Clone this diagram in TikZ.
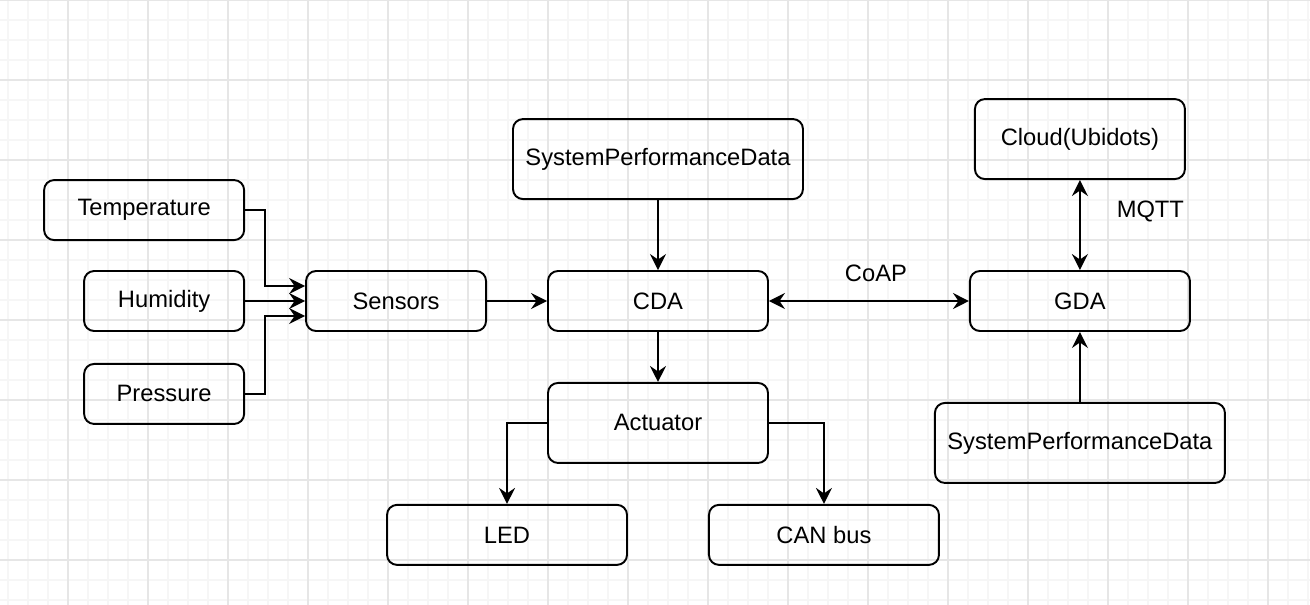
\documentclass[tikz,border=0pt]{standalone}
\usepackage{fontspec}
\setmainfont{Liberation Sans}
\usepackage{xcolor}
\usetikzlibrary{arrows.meta,positioning}

\definecolor{gridminor}{HTML}{F6F6F6}
\definecolor{gridmajor}{HTML}{E6E6E6}

\begin{document}
\begin{tikzpicture}[
  box/.style={
    draw,
    rounded corners=2mm,
    align=center,
    minimum width=44mm,
    minimum height=12mm,
    inner sep=0pt,
    line width=1.1pt
  },
  tall/.style={minimum height=16mm},
  arr/.style={-{Stealth[length=3.2mm,width=3.2mm,inset=1.1mm]}, line width=1.1pt},
  biarr/.style={{Stealth[length=3.2mm,width=3.2mm,inset=1.1mm]}-{Stealth[length=3.2mm,width=3.2mm,inset=1.1mm]}, line width=1.1pt},
  font=\fontsize{13.5}{16}\selectfont
]
% background grid
\useasboundingbox (-131.6mm,-60.6mm) rectangle (130.4mm,60.2mm);
\begin{scope}
  \clip (-131.6mm,-60.6mm) rectangle (130.4mm,60.2mm);
  \fill[white] (-131.6mm,-60.6mm) rectangle (130.4mm,60.2mm);
  \draw[gridminor, line width=0.6pt, shift={(-2mm,0.2mm)}, step=4mm] (-136mm,-64mm) grid (136mm,64mm);
  \draw[gridmajor, line width=0.8pt, shift={(-6mm,-3.8mm)}, step=16mm] (-144mm,-64mm) grid (144mm,64mm);
\end{scope}

\node[box] (cda) at (0,0) {CDA};
\node[box, minimum width=36mm, left=12mm of cda] (sensors) {Sensors};
\node[box, minimum width=32mm, left=12mm of sensors] (hum) {Humidity};
\node[box, minimum width=40mm, above=5.8mm of hum.north east, anchor=south east] (temp) {Temperature};
\node[box, minimum width=32mm, below=6.2mm of hum] (pres) {Pressure};
\node[box, tall, minimum width=58mm, above=14mm of cda] (spdc) {SystemPerformanceData};
\node[box, tall, below=10mm of cda] (act) {Actuator};
\node[box, minimum width=48mm, below=8mm of act.south west, xshift=-8mm] (led) {LED};
\node[box, minimum width=46mm, below=8mm of act.south east, xshift=11mm] (can) {CAN bus};
\node[box, right=40mm of cda] (gda) {GDA};
\node[box, tall, minimum width=42mm, above=18mm of gda] (cloud) {Cloud(Ubidots)};
\node[box, tall, minimum width=58mm, below=14mm of gda] (spdg) {SystemPerformanceData};

% sensor inputs
\draw[arr] (temp.east) -- ++(4mm,0) |- ([yshift=3mm]sensors.west);
\draw[arr] (hum) -- (sensors);
\draw[arr] (pres.east) -- ++(4mm,0) |- ([yshift=-3mm]sensors.west);
\draw[arr] (sensors) -- (cda);
\draw[arr] (spdc) -- (cda);
\draw[arr] (cda) -- (act);
\draw[arr] (act.west) -| (led.north);
\draw[arr] (act.east) -| (can.north);

% gateway side
\draw[biarr] (cda) -- node[above=2.5mm, xshift=1.4mm]{CoAP} (gda);
\draw[biarr] (cloud) -- node[pos=0.35, right=6mm]{MQTT} (gda);
\draw[arr] (spdg) -- (gda);
\end{tikzpicture}
\end{document}
